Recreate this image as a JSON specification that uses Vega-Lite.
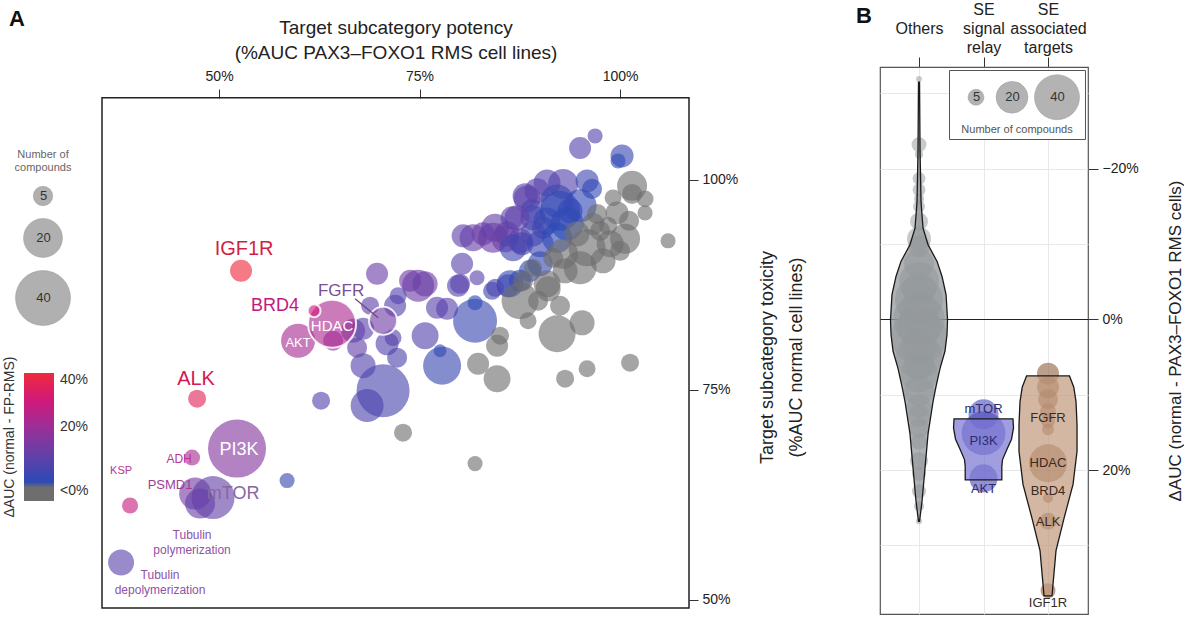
{
"$schema": "https://vega.github.io/schema/vega-lite/v6.json",
"background": "white",
"padding": {"left": 3, "top": 0, "right": 0, "bottom": 0},
"config": {"font": "Liberation Sans", "axis": {"domain": false, "labelColor": "#222", "titleColor": "#222", "tickColor": "#333", "titleFontWeight": "normal"}, "legend": {"titleFontWeight": "normal"}},
"datasets": {
"a_points": [
{"x":58.48,"y":64.18,"n":3.0,"d":2},{"x":62.72,"y":73.70,"n":4.3,"d":7},{"x":69.70,"y":88.81,"n":6.4,"d":11},{"x":73.82,"y":87.98,"n":6.4,"d":12},{"x":74.82,"y":87.39,"n":13.5,"d":11},{"x":72.32,"y":86.20,"n":3.8,"d":7},{"x":68.83,"y":85.01,"n":4.3,"d":9},{"x":71.95,"y":85.01,"n":6.4,"d":7},{"x":67.96,"y":82.27,"n":6.4,"d":8},{"x":66.71,"y":82.03,"n":7.6,"d":9},{"x":67.21,"y":80.01,"n":5.3,"d":10},{"x":71.70,"y":81.20,"n":3.8,"d":8},{"x":70.95,"y":80.48,"n":7.0,"d":7},{"x":72.20,"y":78.82,"n":5.3,"d":6},{"x":67.96,"y":77.87,"n":8.3,"d":7},{"x":70.45,"y":74.89,"n":37.2,"d":5},{"x":68.46,"y":73.11,"n":14.4,"d":6},{"x":75.69,"y":81.44,"n":9.6,"d":7},{"x":77.18,"y":84.77,"n":6.4,"d":8},{"x":78.43,"y":84.65,"n":6.4,"d":8},{"x":79.80,"y":87.39,"n":6.4,"d":7},{"x":80.30,"y":90.00,"n":6.4,"d":8},{"x":82.17,"y":88.34,"n":3.0,"d":8},{"x":75.69,"y":87.62,"n":8.3,"d":11},{"x":77.81,"y":77.87,"n":19.1,"d":2},{"x":77.56,"y":79.65,"n":2.2,"d":1},{"x":81.92,"y":83.22,"n":25.6,"d":2},{"x":81.92,"y":85.36,"n":3.0,"d":0},{"x":84.04,"y":86.79,"n":4.3,"d":4},{"x":86.29,"y":87.62,"n":9.6,"d":2},{"x":64.22,"y":80.84,"n":5.3,"d":20},{"x":80.43,"y":93.34,"n":7.0,"d":9},{"x":81.67,"y":93.10,"n":9.6,"d":10},{"x":82.92,"y":93.57,"n":7.0,"d":12},{"x":84.17,"y":93.10,"n":11.9,"d":11},{"x":84.42,"y":94.29,"n":10.4,"d":10},{"x":85.66,"y":92.98,"n":9.6,"d":12},{"x":85.91,"y":93.57,"n":8.3,"d":10},{"x":86.54,"y":95.48,"n":7.0,"d":8},{"x":87.53,"y":92.74,"n":8.3,"d":9},{"x":87.78,"y":92.38,"n":7.0,"d":6},{"x":88.16,"y":98.10,"n":8.3,"d":8},{"x":88.41,"y":97.74,"n":9.6,"d":9},{"x":89.03,"y":96.31,"n":7.0,"d":5},{"x":89.15,"y":95.48,"n":8.3,"d":4},{"x":89.15,"y":93.57,"n":8.3,"d":5},{"x":90.03,"y":92.38,"n":9.6,"d":3},{"x":90.90,"y":99.64,"n":9.6,"d":7},{"x":89.65,"y":98.69,"n":8.3,"d":8},{"x":92.90,"y":99.52,"n":11.9,"d":7},{"x":90.90,"y":95.12,"n":9.6,"d":2},{"x":90.40,"y":94.29,"n":6.4,"d":3},{"x":92.15,"y":97.50,"n":14.4,"d":2},{"x":92.52,"y":96.31,"n":21.2,"d":1},{"x":93.77,"y":96.31,"n":8.3,"d":1},{"x":95.02,"y":96.91,"n":14.4,"d":1},{"x":95.89,"y":99.88,"n":7.0,"d":3},{"x":96.51,"y":98.93,"n":5.3,"d":1},{"x":95.02,"y":103.81,"n":6.4,"d":7},{"x":96.89,"y":105.24,"n":3.0,"d":7},{"x":100.25,"y":102.86,"n":7.0,"d":2},{"x":99.75,"y":102.26,"n":3.0,"d":0},{"x":92.15,"y":93.10,"n":11.9,"d":0},{"x":86.66,"y":91.91,"n":9.6,"d":4},{"x":90.03,"y":90.00,"n":8.3,"d":1},{"x":88.78,"y":89.17,"n":6.4,"d":0},{"x":86.04,"y":87.39,"n":7.0,"d":2},{"x":87.53,"y":87.98,"n":6.4,"d":1},{"x":84.42,"y":87.15,"n":4.3,"d":5},{"x":80.05,"y":87.62,"n":5.3,"d":8},{"x":87.16,"y":95.48,"n":8.3,"d":9},{"x":93.40,"y":94.76,"n":14.4,"d":0},
{"x":101.50,"y":99.29,"n":11.9,"d":-5},{"x":103.12,"y":97.74,"n":3.8,"d":-5},{"x":101.50,"y":98.33,"n":5.3,"d":-5},{"x":99.13,"y":97.86,"n":3.8,"d":-5},{"x":105.99,"y":92.74,"n":3.0,"d":-5},{"x":99.63,"y":96.07,"n":7.0,"d":-5},{"x":101.13,"y":95.12,"n":5.3,"d":-5},{"x":100.63,"y":92.98,"n":11.9,"d":-5},{"x":98.76,"y":92.38,"n":9.6,"d":-5},{"x":95.89,"y":91.91,"n":18.1,"d":-5},{"x":95.02,"y":89.53,"n":14.4,"d":-5},{"x":97.51,"y":93.93,"n":5.3,"d":-5},{"x":98.51,"y":94.53,"n":4.3,"d":-5},{"x":97.14,"y":95.95,"n":5.3,"d":-5},{"x":91.65,"y":90.72,"n":5.3,"d":-5},{"x":93.15,"y":89.17,"n":8.3,"d":-5},{"x":90.90,"y":87.62,"n":9.6,"d":-5},{"x":92.90,"y":91.19,"n":11.9,"d":-5},{"x":94.64,"y":93.57,"n":8.3,"d":-5},{"x":96.64,"y":94.76,"n":6.4,"d":-5},{"x":87.91,"y":87.98,"n":5.3,"d":-5},{"x":89.15,"y":89.53,"n":4.3,"d":-5},{"x":87.53,"y":85.60,"n":18.1,"d":-5},{"x":91.03,"y":87.03,"n":8.3,"d":-5},{"x":92.52,"y":85.01,"n":5.3,"d":-5},{"x":88.53,"y":83.22,"n":3.8,"d":-5},{"x":92.15,"y":81.67,"n":18.1,"d":-5},{"x":95.27,"y":82.98,"n":8.3,"d":-5},{"x":84.67,"y":80.25,"n":6.4,"d":-5},{"x":82.30,"y":78.10,"n":6.4,"d":-5},{"x":84.67,"y":76.32,"n":9.6,"d":-5},{"x":93.15,"y":76.32,"n":4.3,"d":-5},{"x":95.89,"y":77.51,"n":3.8,"d":-5},{"x":101.25,"y":78.22,"n":4.3,"d":-5},{"x":85.04,"y":81.44,"n":4.3,"d":-5},{"x":89.78,"y":85.60,"n":5.3,"d":-5},{"x":97.88,"y":90.36,"n":8.3,"d":-5},{"x":100.00,"y":91.55,"n":5.3,"d":-5},{"x":103.12,"y":96.07,"n":3.0,"d":-5},{"x":72.94,"y":69.89,"n":4.3,"d":-5},{"x":81.92,"y":66.20,"n":3.0,"d":-5},
{"name":"IGF1R","x":52.74,"y":89.17,"n":6.4,"d":42},{"name":"AKT","x":59.85,"y":80.84,"n":15.3,"d":22},{"name":"HDAC","x":64.09,"y":82.86,"n":30.5,"d":23},{"name":"BRD4","x":61.85,"y":84.41,"n":2.2,"d":30},{"name":"FGFR","x":70.45,"y":83.22,"n":10.4,"d":12},{"name":"ALK","x":47.26,"y":73.94,"n":4.3,"d":36},{"name":"PI3K","x":52.24,"y":67.99,"n":44.5,"d":16},{"name":"ADH","x":46.63,"y":66.92,"n":3.4,"d":22},{"name":"KSP","x":38.90,"y":61.21,"n":3.4,"d":28},{"name":"PSMD1","x":47.01,"y":62.63,"n":13.5,"d":13},{"name":"mTOR","x":49.25,"y":62.16,"n":24.5,"d":10},{"name":"Tubulin polymerization","x":47.63,"y":61.44,"n":11.9,"d":10},{"name":"Tubulin depolymerization","x":37.78,"y":54.42,"n":8.9,"d":8}
],
"a_labels": [
{"label":"IGF1R","x":53.12,"y":91.79},{"label":"BRD4","x":56.98,"y":85.01},{"label":"HDAC","x":64.09,"y":82.63},{"label":"AKT","x":59.85,"y":80.60},{"label":"FGFR","x":65.21,"y":86.79},{"label":"ALK","x":47.13,"y":76.32},{"label":"PI3K","x":52.49,"y":67.87},{"label":"ADH","x":45.01,"y":66.80},{"label":"KSP","x":37.78,"y":65.37},{"label":"PSMD1","x":43.89,"y":63.70},{"label":"mTOR","x":51.75,"y":62.63},{"label":"Tubulin\npolymerization","x":46.63,"y":57.64},{"label":"Tubulin\ndepolymerization","x":42.64,"y":52.88}
],
"a_line": [{"x":66.96,"y":85.84,"x2":69.83,"y2":83.58}],
"a_frame": [{"x":35.4,"x2":108.6,"y":49.0,"y2":109.8}],
"b_violin": [
{"cat":"Others","yv":-31.5,"pos":0.992,"pos2":1.008},{"cat":"Others","yv":-22.3,"pos":0.984,"pos2":1.016},{"cat":"Others","yv":-15.6,"pos":0.969,"pos2":1.031},{"cat":"Others","yv":-12.1,"pos":0.938,"pos2":1.062},{"cat":"Others","yv":-9.9,"pos":0.86,"pos2":1.14},{"cat":"Others","yv":-7.7,"pos":0.72,"pos2":1.28},{"cat":"Others","yv":-5.7,"pos":0.643,"pos2":1.357},{"cat":"Others","yv":-3.3,"pos":0.581,"pos2":1.419},{"cat":"Others","yv":0,"pos":0.558,"pos2":1.442},{"cat":"Others","yv":2.0,"pos":0.566,"pos2":1.434},{"cat":"Others","yv":4.2,"pos":0.597,"pos2":1.403},{"cat":"Others","yv":6.5,"pos":0.674,"pos2":1.326},{"cat":"Others","yv":8.9,"pos":0.736,"pos2":1.264},{"cat":"Others","yv":10.9,"pos":0.783,"pos2":1.217},{"cat":"Others","yv":15.2,"pos":0.86,"pos2":1.14},{"cat":"Others","yv":19.7,"pos":0.907,"pos2":1.093},{"cat":"Others","yv":24.1,"pos":0.953,"pos2":1.047},{"cat":"Others","yv":26.8,"pos":0.992,"pos2":1.008},
{"cat":"SE signal relay","yv":13.2,"pos":1.543,"pos2":2.457},{"cat":"SE signal relay","yv":14.4,"pos":1.535,"pos2":2.465},{"cat":"SE signal relay","yv":15.9,"pos":1.566,"pos2":2.434},{"cat":"SE signal relay","yv":17.3,"pos":1.64,"pos2":2.36},{"cat":"SE signal relay","yv":18.6,"pos":1.705,"pos2":2.295},{"cat":"SE signal relay","yv":19.5,"pos":1.716,"pos2":2.284},{"cat":"SE signal relay","yv":21.3,"pos":1.716,"pos2":2.284},
{"cat":"SE associated targets","yv":7.5,"pos":2.667,"pos2":3.333},{"cat":"SE associated targets","yv":9.0,"pos":2.60,"pos2":3.40},{"cat":"SE associated targets","yv":10.9,"pos":2.566,"pos2":3.434},{"cat":"SE associated targets","yv":14.0,"pos":2.55,"pos2":3.45},{"cat":"SE associated targets","yv":17.5,"pos":2.55,"pos2":3.45},{"cat":"SE associated targets","yv":21.9,"pos":2.612,"pos2":3.388},{"cat":"SE associated targets","yv":26.4,"pos":2.752,"pos2":3.248},{"cat":"SE associated targets","yv":30.7,"pos":2.876,"pos2":3.124},{"cat":"SE associated targets","yv":35.1,"pos":2.922,"pos2":3.078},{"cat":"SE associated targets","yv":36.7,"pos":2.938,"pos2":3.062}
],
"b_points": [
{"cat":"Others","pos":1,"yv":-31.9,"n":0.7},{"cat":"Others","pos":1,"yv":-23.2,"n":4.4},{"cat":"Others","pos":1,"yv":-21.9,"n":1.3},{"cat":"Others","pos":1,"yv":-18.7,"n":3.3},{"cat":"Others","pos":1,"yv":-17.2,"n":3.3},{"cat":"Others","pos":1,"yv":-16,"n":2},{"cat":"Others","pos":1,"yv":-15,"n":2.8},{"cat":"Others","pos":1,"yv":-13,"n":6.4},{"cat":"Others","pos":1,"yv":-10.7,"n":11.4},{"cat":"Others","pos":1,"yv":-9.7,"n":9.6},{"cat":"Others","pos":1,"yv":-7.4,"n":17.8},{"cat":"Others","pos":1,"yv":-5.0,"n":31.6},{"cat":"Others","pos":1,"yv":-4.0,"n":22.8},{"cat":"Others","pos":1,"yv":-2.6,"n":45.5},{"cat":"Others","pos":1,"yv":-1.0,"n":31.6},{"cat":"Others","pos":1,"yv":0,"n":53.4},{"cat":"Others","pos":1,"yv":1.0,"n":38},{"cat":"Others","pos":1,"yv":2.3,"n":62},{"cat":"Others","pos":1,"yv":3.5,"n":25.6},{"cat":"Others","pos":1,"yv":4.9,"n":41.8},{"cat":"Others","pos":1,"yv":6.0,"n":17.8},{"cat":"Others","pos":1,"yv":7.2,"n":28.5},{"cat":"Others","pos":1,"yv":9.5,"n":17.8},{"cat":"Others","pos":1,"yv":11.5,"n":11.4},{"cat":"Others","pos":1,"yv":12.8,"n":9.6},{"cat":"Others","pos":1,"yv":14.4,"n":7.9},{"cat":"Others","pos":1,"yv":16.2,"n":5.1},{"cat":"Others","pos":1,"yv":18.8,"n":6.4},{"cat":"Others","pos":1,"yv":20.5,"n":3.9},{"cat":"Others","pos":1,"yv":22.8,"n":3.9},{"cat":"Others","pos":1,"yv":24.8,"n":2},{"cat":"Others","pos":1,"yv":26.8,"n":0.7},
{"cat":"SE signal relay","pos":2,"yv":12.6,"n":17.8},{"cat":"SE signal relay","pos":2,"yv":15.1,"n":38},{"cat":"SE signal relay","pos":2,"yv":21.1,"n":15.5},
{"cat":"SE associated targets","pos":3,"yv":7.2,"n":9.6},{"cat":"SE associated targets","pos":3,"yv":9.0,"n":9.6},{"cat":"SE associated targets","pos":3,"yv":10.6,"n":7.9},{"cat":"SE associated targets","pos":3,"yv":12.2,"n":5},{"cat":"SE associated targets","pos":3,"yv":13.5,"n":3.9},{"cat":"SE associated targets","pos":3,"yv":14.6,"n":2.8},{"cat":"SE associated targets","pos":3,"yv":19.1,"n":28.5},{"cat":"SE associated targets","pos":3,"yv":23.7,"n":2},{"cat":"SE associated targets","pos":3,"yv":26.8,"n":5.7},{"cat":"SE associated targets","pos":3,"yv":36,"n":4.4}
],
"b_labels": [
{"cat":"SE signal relay","pos":2,"yv":11.9,"label":"mTOR"},{"cat":"SE signal relay","pos":2,"yv":16.2,"label":"PI3K"},{"cat":"SE signal relay","pos":2,"yv":22.5,"label":"AKT"},
{"cat":"SE associated targets","pos":3,"yv":13.1,"label":"FGFR"},{"cat":"SE associated targets","pos":3,"yv":19.1,"label":"HDAC"},{"cat":"SE associated targets","pos":3,"yv":22.8,"label":"BRD4"},{"cat":"SE associated targets","pos":3,"yv":26.9,"label":"ALK"},{"cat":"SE associated targets","pos":3,"yv":37.7,"label":"IGF1R"}
]
},
"spacing": 49,
"resolve": {"scale": {"color": "independent", "size": "independent"}, "legend": {"color": "independent", "size": "independent"}},
"hconcat": [
{
"width": 587, "height": 541,
"view": {"stroke": null},
"title": {"text": "A", "anchor": "start", "frame": "group", "fontSize": 22, "fontWeight": "bold", "color": "#111", "dx": -93, "offset": -13},
"encoding": {
"x": {"field": "x", "type": "quantitative", "scale": {"domain": [35.4, 108.6], "nice": false, "zero": false},
 "axis": {"orient": "top", "offset": -31, "values": [50, 75, 100], "labelExpr": "datum.value + '%'", "tickSize": 9, "labelPadding": 6, "labelFontSize": 14, "title": ["Target subcategory potency", "(%AUC PAX3–FOXO1 RMS cell lines)"], "titleFontSize": 19, "titleLineHeight": 25, "titlePadding": 7, "grid": false}},
"y": {"field": "y", "type": "quantitative", "scale": {"domain": [49.0, 113.45], "nice": false, "zero": false},
 "axis": {"orient": "right", "values": [50, 75, 100], "labelExpr": "datum.value + '%'", "tickSize": 9, "labelPadding": 4, "labelFontSize": 14, "title": ["Target subcategory toxicity", "(%AUC normal cell lines)"], "titleFontSize": 18, "titleLineHeight": 29, "titleAngle": 270, "titlePadding": 10, "titleY": 290, "grid": false}}
},
"layer": [
{
"data": {"name": "a_points"},
"mark": {"type": "circle", "fillOpacity": 0.62, "strokeOpacity": 0.85, "stroke": "white"},
"encoding": {
"size": {"field": "n", "type": "quantitative", "scale": {"domain": [0, 40], "range": [0, 3025], "zero": true},
 "legend": {"values": [5, 20, 40], "orient": "none", "legendX": -87, "legendY": 82, "direction": "vertical", "title": ["Number of", "compounds"], "titleFontSize": 11, "titleColor": "#666", "titleAlign": "center", "titleAnchor": "middle", "titleLineHeight": 13, "titlePadding": 13, "symbolFillColor": "#b0b0b0", "symbolStrokeColor": "#999", "symbolStrokeWidth": 0.5, "symbolOpacity": 1, "labelAlign": "center", "labelOffset": -27.5, "labelFontSize": 13, "labelColor": "#333", "rowPadding": 10, "padding": 0,
  "encode": {"symbols": {"update": {"opacity": {"value": 1}, "fillOpacity": {"value": 1}, "fill": {"value": "#b0b0b0"}, "stroke": {"value": "#999"}, "strokeWidth": {"value": 0.5}}}}}},
"color": {"field": "d", "type": "quantitative",
 "scale": {"domain": [-7, -0.1, 0, 10, 20, 30, 40], "range": ["#6e6e6e", "#6e6e6e", "#2d4ab5", "#6440a8", "#9b2f98", "#d0197a", "#ee2a3c"], "clamp": true, "interpolate": "rgb"},
 "legend": {"orient": "none", "legendX": -99, "legendY": 306, "direction": "vertical", "gradientLength": 128, "gradientThickness": 30, "values": [40, 20, -3.5], "labelExpr": "datum.value < 0 ? '<0%' : datum.value + '%'", "title": "ΔAUC (normal - FP-RMS)", "titleOrient": "left", "titleAngle": 270, "titleAnchor": "middle", "titleFontSize": 14, "titleColor": "#333", "titlePadding": 6, "labelFontSize": 14, "labelColor": "#333", "labelOffset": 6, "padding": 0}},
"strokeWidth": {"condition": {"test": "datum.name == 'HDAC' || datum.name == 'FGFR' || datum.name == 'BRD4'", "value": 2}, "value": 0}
}
},
{
"data": {"name": "a_line"},
"mark": {"type": "rule", "color": "#6a4a80", "strokeWidth": 1.3},
"encoding": {"x2": {"field": "x2"}, "y2": {"field": "y2"}}
},
{
"data": {"name": "a_labels"},
"mark": {"type": "text", "lineBreak": "\n", "baseline": "middle", "align": "center", "lineHeight": 15},
"encoding": {
"text": {"field": "label"},
"color": {"condition": [
 {"test": "datum.label == 'HDAC' || datum.label == 'AKT' || datum.label == 'PI3K'", "value": "#ffffff"},
 {"test": "datum.label == 'IGF1R'", "value": "#d31f3f"},
 {"test": "datum.label == 'BRD4'", "value": "#c2197d"},
 {"test": "datum.label == 'ALK'", "value": "#d31a50"},
 {"test": "datum.label == 'FGFR'", "value": "#7b4f95"},
 {"test": "datum.label == 'ADH' || datum.label == 'KSP'", "value": "#bb3595"},
 {"test": "datum.label == 'PSMD1'", "value": "#9d3e98"},
 {"test": "datum.label == 'mTOR'", "value": "#86689d"}
], "value": "#8d52a8"},
"size": {"condition": [
 {"test": "datum.label == 'IGF1R' || datum.label == 'ALK'", "value": 20},
 {"test": "datum.label == 'BRD4' || datum.label == 'PI3K' || datum.label == 'mTOR'", "value": 18},
 {"test": "datum.label == 'FGFR'", "value": 17},
 {"test": "datum.label == 'HDAC'", "value": 15},
 {"test": "datum.label == 'AKT' || datum.label == 'PSMD1'", "value": 13},
 {"test": "datum.label == 'KSP'", "value": 11}
], "value": 12}
}
},
{
"data": {"name": "a_frame"},
"mark": {"type": "rect", "filled": false, "color": "#222", "strokeWidth": 1.5},
"encoding": {"x2": {"field": "x2"}, "y2": {"field": "y2"}}
}
]
},
{
"width": 208, "height": 547,
"view": {"stroke": "#555", "strokeWidth": 1.2},
"title": {"text": "B", "anchor": "start", "frame": "group", "fontSize": 22, "fontWeight": "bold", "color": "#111", "dx": -24, "offset": -27},
"resolve": {"scale": {"color": "independent"}},
"encoding": {
"x": {"field": "pos", "type": "quantitative", "scale": {"domain": [0.395, 3.62], "nice": false, "zero": false},
 "axis": {"orient": "top", "values": [1, 2, 3], "labelExpr": "datum.value == 1 ? ['', 'Others', ''] : datum.value == 2 ? ['SE', 'signal', 'relay'] : ['SE', 'associated', 'targets']", "labelBaseline": "top", "labelLineHeight": 19, "labelFontSize": 16, "labelPadding": 56, "labelOverlap": false, "labelBound": false, "labelFlush": false, "tickSize": 10, "title": null, "grid": true, "gridColor": "#e8e8e8"}},
"y": {"field": "yv", "type": "quantitative", "scale": {"domain": [-33.5, 39.1], "reverse": true, "nice": false, "zero": false},
 "axis": {"orient": "right", "values": [-30, -20, -10, 0, 10, 20, 30], "labelExpr": "datum.value % 20 === 0 ? (datum.value < 0 ? '−' + abs(datum.value) + '%' : datum.value + '%') : ''", "tickOpacity": {"condition": {"test": "datum.value % 20 === 0", "value": 1}, "value": 0}, "tickSize": 10, "labelPadding": 4, "labelFontSize": 14, "grid": true, "gridColor": {"condition": {"test": "datum.value === 0", "value": "#222"}, "value": "#e8e8e8"}, "gridWidth": {"condition": {"test": "datum.value === 0", "value": 1.2}, "value": 1}, "title": "ΔAUC (normal - PAX3–FOXO1 RMS cells)", "titleFontSize": 17, "titleAngle": 270, "titlePadding": 46}}
},
"layer": [
{
"data": {"name": "b_points"},
"mark": {"type": "circle", "opacity": 0.6},
"encoding": {
"size": {"field": "n", "type": "quantitative", "scale": {"domain": [0, 40], "range": [0, 2025], "zero": true},
 "legend": {"values": [5, 20, 40], "orient": "top-right", "offset": 3, "direction": "horizontal", "columns": 3, "title": "Number of compounds", "titleOrient": "bottom", "titleFontSize": 11, "titleColor": "#555", "titleAnchor": "middle", "titlePadding": 3, "labelAlign": "center", "labelOffset": -22.5, "labelFontSize": 13, "labelColor": "#333", "columnPadding": 4, "padding": 4, "strokeColor": "#555", "fillColor": "white", "symbolFillColor": "#b3b3b3", "symbolStrokeColor": "#9a9a9a", "symbolStrokeWidth": 0.5, "symbolOpacity": 1,
  "encode": {"symbols": {"update": {"opacity": {"value": 1}, "fill": {"value": "#b3b3b3"}, "stroke": {"value": "#9a9a9a"}}}}}},
"color": {"field": "cat", "type": "nominal", "scale": {"domain": ["Others", "SE signal relay", "SE associated targets"], "range": ["#a3a6a9", "#4b47c0", "#8e5e40"]}, "legend": null}
}
},
{
"data": {"name": "b_violin"},
"mark": {"type": "area", "orient": "horizontal", "stroke": "#1a1a1a", "strokeWidth": 1.3, "fillOpacity": 0.72},
"encoding": {
"x2": {"field": "pos2"},
"color": {"field": "cat", "type": "nominal", "scale": {"domain": ["Others", "SE signal relay", "SE associated targets"], "range": ["#8f9497", "#7b78d2", "#c29b7e"]}, "legend": null}
}
},
{
"data": {"name": "b_labels"},
"mark": {"type": "text", "fontSize": 13, "baseline": "middle", "align": "center"},
"encoding": {
"text": {"field": "label"},
"color": {"condition": {"test": "datum.cat == 'SE signal relay'", "value": "#2b2d6e"}, "value": "#3a2a1f"}
}
}
]
}
]
}
